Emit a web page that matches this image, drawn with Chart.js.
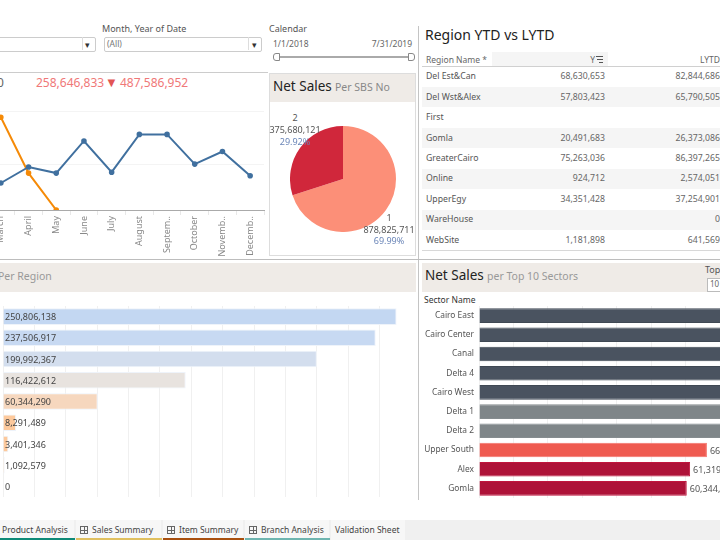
<!DOCTYPE html>
<html><head><meta charset="utf-8">
<script src="https://cdn.jsdelivr.net/npm/chart.js@4/dist/chart.umd.min.js"></script>
<style>
html,body{margin:0;padding:0;background:#fff;width:720px;height:540px;overflow:hidden}
body{position:relative;font-family:"Noto Sans",sans-serif;color:#555}
.t{position:absolute;white-space:nowrap;line-height:1}
.r{position:absolute;}
canvas{position:absolute}
</style></head><body>
<div id="stage"></div>
<canvas id="line"></canvas><canvas id="pie"></canvas><canvas id="region"></canvas><canvas id="sector"></canvas>
<script>
const months=['March','April','May','June','July','August','Septem..','October','Novemb..','Decemb..'];
const blueValues=[30,47.8,41,76.7,42,84,84,51,65,38];
const orangeValues=[103,41,0,null,null,null,null,null,null,null];
const sbsLabels=['1','2'];
const sbsValues=[878825711,375680121];
const regionCats=['GreaterCairo','Del Est&Can','Del Wst&Alex','UpperEgy','Gomla','Online','WebSite','WareHouse','First'];
const regionValues=[250806138,237506917,199992367,116422612,60344290,8291489,3401346,1092579,0];
const regionColors=['#c3d7f2','#c7d9f2','#d3deee','#e8e3df','#f6d7be','#fdc99c','#fdc99c','#fce5d3','#fce5d3'];
const sectorCats=['Cairo East','Cairo Center','Canal','Delta 4','Cairo West','Delta 1','Delta 2','Upper South','Alex','Gomla'];
const sectorValues=[170000000,160000000,150000000,140000000,130000000,100000000,90000000,66200000,61319000,60344290];
const sectorColors=['#4a5360','#4a5360','#4a5360','#4a5360','#4a5360','#7f8689','#7f8689','#ef5a50','#ae1238','#ae1238'];
const sectorBorders=['#3f4853','#3f4853','#3f4853','#3f4853','#3f4853','#858c8f','#858c8f','#f4736a','#c0153d','#c0153d'];
const tableNames=['Del Est&Can','Del Wst&Alex','First','Gomla','GreaterCairo','Online','UpperEgy','WareHouse','WebSite'];
const tableY=['68,630,653','57,803,423','','20,491,683','75,263,036','924,712','34,351,428','','1,181,898'];
const tableL=['82,844,686','65,790,505','','26,373,086','86,397,265','2,574,051','37,254,901','0','641,569'];
const tabs=[['Product Analysis',2,0,75,'#0f8a78',false],['Sales Summary',92,76,162,'#e0c060',true],['Item Summary',179,163,244,'#a8500f',true],['Branch Analysis',261,245,330,'#6fb5b0',true],['Validation Sheet',335,331,406,'',false]];

const stage=document.getElementById('stage');
function box(x,y,w,h,bg,extra){const d=document.createElement('div');d.className='r';d.style.cssText=`left:${x}px;top:${y}px;width:${w}px;height:${h}px;background:${bg};${extra||''}`;stage.appendChild(d);return d;}
function txt(s,x,y,size,color,opt){opt=opt||{};const d=document.createElement('div');d.className='t';d.textContent=s;
 d.style.cssText=`top:${y-size/2}px;font-size:${size}px;color:${color};`+(opt.right!==undefined?`right:${720-opt.right}px;`:`left:${x}px;`)+(opt.css||'');stage.appendChild(d);return d;}

// filters
txt('Month, Year of Date',102,28,9,'#555');
box(-10,37,104,13,'#fff','border:1px solid #ccc;border-radius:2px');
box(82,37,0,13,'#fff','border-left:1px solid #ddd');
box(104,37,156,13,'#fff','border:1px solid #ccc;border-radius:2px');
box(248,37,0,13,'#fff','border-left:1px solid #ddd');
txt('▾',85,44,9,'#333');txt('▾',252,44,9,'#333');
txt('(All)',107,44,8.5,'#777');
txt('Calendar',269,28,9,'#555');
txt('1/1/2018',273,44,8.5,'#666');
txt('7/31/2019',0,44,8.5,'#666',{right:412});
box(277,55.5,133,2,'#aaa');
box(273,53,5,6,'#fff','border:1px solid #888;border-radius:3px 0 0 3px');
box(408,53,5,6,'#fff','border:1px solid #888;border-radius:0 3px 3px 0');

// structure lines
box(0,72,268,1,'#ccc');
box(418,26,1,474,'#c4c4c4');
box(0,259,720,1,'#bdbdbd');
box(269,73,147,183,'#fff','border:1px solid #ddd;box-sizing:border-box');
box(270,74,145,28,'#efebe7');
box(0,263,416,29,'#efebe7');
box(422,263,298,29,'#efebe7');

// KPIs
txt('0',-3,83,12,'#666');
txt('258,646,833',36,83,12,'#f07878');
txt('▼',105,82,13,'#e25555');
txt('487,586,952',120,83,12,'#f07878');

// titles
txt('Net Sales',273,87,13.5,'#222');
txt('Per SBS No',335,87,10.5,'#888');
txt('Region YTD vs LYTD',425,35,14,'#222');
txt('Per Region',-2,276,10.5,'#999');
txt('Net Sales',425,276,13.5,'#222');
txt('per Top 10 Sectors',487,276,10.5,'#999');
txt('Top',705,269,9,'#555');
box(707,278,20,12,'#fff','border:1px solid #bbb');
txt('10',710,284,8,'#666');
txt('Sector Name',424,300,8.5,'#333');

// pie labels
[['2',295,117,'#555'],['375,680,121',295,129,'#555'],['29.92%',295,141,'#6b86b8'],['1',389,217,'#555'],['878,825,711',389,229,'#555'],['69.99%',389,240,'#6b86b8']].forEach(a=>{
 const d=txt(a[0],a[1],a[2],9,a[3]);d.style.transform='translateX(-50%)';d.style.zIndex=5;});

// table
box(492,52,116,14,'#f5f5f5');
txt('Region Name *',426,60,8.5,'#666');
txt('Y',0,60,8.5,'#666',{right:595});
[[596,7],[597,6],[599,4]].forEach((b,i)=>box(b[0],56+i*3,b[1],1,'#555'));
txt('LYTD',0,60,8.5,'#666',{right:720});
box(422,66,298,1,'#d0d0d0');
tableNames.forEach((n,i)=>{
 const cy=76.7+i*20.4;
 if(i%2===1)box(422,cy-10,298,20.4,'#f5f5f5');
 txt(n,426,cy,8.7,'#555');
 if(tableY[i])txt(tableY[i],0,cy,8.7,'#666',{right:605});
 if(tableL[i])txt(tableL[i],0,cy,8.7,'#666',{right:720});
});
box(422,250,298,1,'#d8d8d8');

// tabs
box(0,520,720,20,'#f0f0f0');
tabs.forEach(t=>{
 box(t[2],520,t[3]-t[2]-1,20,'#f7f7f7');
 if(t[4])box(t[2],538,t[3]-t[2],2,t[4]);
 txt(t[0],t[1],530,8.5,'#444');
 if(t[5])box(t[1]-12,526,6,6,'transparent','border:1px solid #666;background:linear-gradient(#666,#666) center/1px 100% no-repeat,linear-gradient(#666,#666) center/100% 1px no-repeat');
});

// charts
const FONT='"Noto Sans",sans-serif';
Chart.defaults.font.family=FONT;
Chart.defaults.animation=false;
Chart.defaults.responsive=false;
Chart.defaults.plugins.legend.display=false;
Chart.defaults.plugins.tooltip.enabled=false;
function place(id,x,y,w,h){const c=document.getElementById(id);c.style.left=x+'px';c.style.top=y+'px';c.width=w;c.height=h;c.style.width=w+'px';c.style.height=h+'px';return c;}
const fmt=v=>v.toLocaleString('en-US');

new Chart(place('line',-19,105,289,153),{type:'line',
 data:{labels:months,datasets:[
  {data:blueValues,borderColor:'#40709f',backgroundColor:'#40709f',borderWidth:2,pointRadius:1.8,tension:0},
  {data:orangeValues,borderColor:'#f58a07',backgroundColor:'#f58a07',borderWidth:2,pointRadius:1.8,tension:0}]},
 options:{layout:{padding:0},scales:{
  x:{offset:true,afterFit:s=>{s.height=48},
     grid:{offset:true,drawOnChartArea:false,drawTicks:true,tickLength:5,color:'#e8e8e8'},
     border:{display:true,color:'#aaa',dash:[1,2]},
     ticks:{autoSkip:false,minRotation:90,maxRotation:90,padding:1,color:'#888',font:{size:9}}},
  y:{min:0,max:110,afterFit:s=>{s.width=0},ticks:{display:false,stepSize:50},
     grid:{drawTicks:false,color:c=>c.tick.value===0?'transparent':'#f4f4f4'},border:{display:false}}}}});

new Chart(place('pie',290,126,106,106),{type:'pie',
 data:{labels:sbsLabels,datasets:[{data:sbsValues,backgroundColor:['#fc8f78','#d0273b'],borderWidth:0}]},
 options:{layout:{padding:0}}});

const regionLabels={id:'regionLabels',afterDatasetsDraw(ch){const c=ch.ctx,x=ch.scales.x,y=ch.scales.y;c.save();c.font='9px '+FONT;c.fillStyle='#444';c.textBaseline='middle';
 regionValues.forEach((v,i)=>c.fillText(fmt(v),x.getPixelForValue(0)+2,y.getPixelForValue(i)+1));c.restore();}};
new Chart(place('region',3,306,408,191),{type:'bar',plugins:[regionLabels],
 data:{labels:regionCats,datasets:[{data:regionValues,backgroundColor:regionColors,borderColor:'#eef3fa',borderWidth:1,categoryPercentage:1,barPercentage:0.78}]},
 options:{indexAxis:'y',layout:{padding:0},scales:{
  x:{min:0,max:260000000,afterFit:s=>{s.height=0},ticks:{display:false,stepSize:20000000},grid:{drawTicks:false,color:'#f0f0f0'},border:{display:false}},
  y:{afterFit:s=>{s.width=0},ticks:{display:false},grid:{display:false},border:{display:false}}}}});

const sectorLabels={id:'sectorLabels',afterDatasetsDraw(ch){const c=ch.ctx,x=ch.scales.x,y=ch.scales.y;c.save();c.font='9px '+FONT;c.fillStyle='#555';c.textBaseline='middle';
 sectorValues.forEach((v,i)=>c.fillText(fmt(v),x.getPixelForValue(v)+3,y.getPixelForValue(i)+1));c.restore();}};
new Chart(place('sector',420,296,300,212),{type:'bar',plugins:[sectorLabels],
 data:{labels:sectorCats,datasets:[{data:sectorValues,backgroundColor:sectorColors,borderColor:sectorBorders,borderWidth:1,categoryPercentage:1,barPercentage:0.76}]},
 options:{indexAxis:'y',layout:{padding:0},scales:{
  x:{min:0,max:70000000,afterFit:s=>{s.height=0},ticks:{display:false,stepSize:10000000},grid:{drawTicks:false,color:'#f0f0f0'},border:{display:false}},
  y:{afterFit:s=>{s.width=59},ticks:{padding:5,color:'#555',font:{size:8.4}},grid:{display:false,drawTicks:false},border:{display:false}}}}});
</script></body></html>
